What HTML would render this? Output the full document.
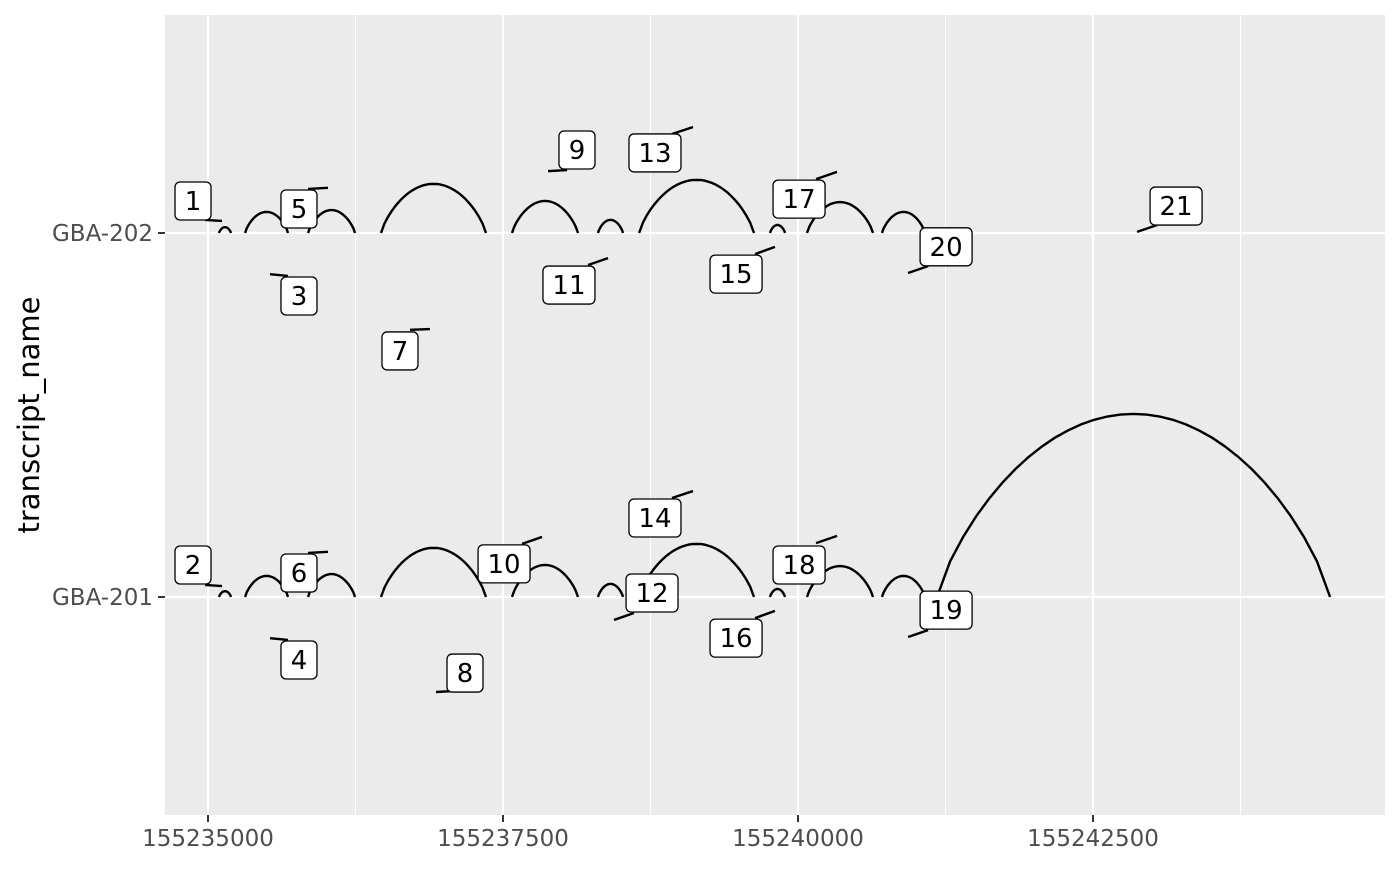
<!DOCTYPE html>
<html><head><meta charset="utf-8"><style>
body{margin:0;background:#fff}
svg text{font-family:"DejaVu Sans","Liberation Sans",sans-serif}
</style></head><body>
<svg id="c" width="1400" height="866" xmlns="http://www.w3.org/2000/svg"></svg>
<script>
const xTicks=[155235000,155237500,155240000,155242500];
const xMinor=[155236250,155238750,155241250,155243750];
const yCats=["GBA-201","GBA-202"];
const juncStart=[155235093,155235314,155235848,155236466,155237576,155238305,155238653,155239763,155240076,155240712];
const juncEnd=[155235195,155235678,155236246,155237356,155238136,155238517,155239627,155239890,155240636,155241076];
const juncHeight=[0.016,0.058,0.063,0.135,0.088,0.036,0.146,0.022,0.085,0.058];
const extraStart=[155241178];const extraEnd=[155244509];const extraHeight=[0.503];
const labelText=["1","2","3","4","5","6","7","8","9","10","11","12","13","14","15","16","17","18","19","20","21"];
const labelGx=[-127,-127,771,771,771,771,1627,2178,3127,2509,3059,3763,3788,3788,4475,4475,5009,5009,6255,6255,8204];
const labelY=[2.088,1.088,1.827,0.827,2.066,1.066,1.676,0.791,2.228,1.091,1.857,1.011,2.220,1.217,1.887,0.887,2.093,1.088,0.964,1.962,2.074];
const segX1=[-25,-25,525,525,848,848,1712,1932,2882,2661,3221,3441,3932,3932,4636,4636,5153,5153,5933,5933,7873];
const segX2=[119,119,678,678,1017,1017,1881,2093,3043,2831,3390,3610,4110,4110,4805,4805,5331,5331,6102,6102,8043];
const segY1=[2.036,1.033,1.887,0.887,2.121,1.121,1.734,0.739,2.170,1.146,1.912,0.937,2.272,1.272,1.942,0.942,2.148,1.148,0.890,1.890,2.003];
const segY2=[2.033,1.030,1.882,0.882,2.124,1.124,1.736,0.742,2.173,1.165,1.931,0.956,2.291,1.291,1.962,0.962,2.168,1.168,0.909,1.909,2.022];

const NS="http://www.w3.org/2000/svg",svg=document.getElementById('c');
const L=165,R=1385,T=15,B=815;
const X=g=>208+(g-155235000)*295/2500;
const Y=v=>597-(v-1)*364;
function mk(t,a,p){const e=document.createElementNS(NS,t);for(const k in a)e.setAttribute(k,a[k]);(p||svg).appendChild(e);return e;}
const bg=mk('rect',{x:L,y:T,width:R-L,height:B-T,fill:'#ebebeb'});


xMinor.forEach(g=>{const e=mk('line',{x1:X(g),x2:X(g),y1:T,y2:B,stroke:'#fff','stroke-width':1});

});
xTicks.forEach(g=>{const e=mk('line',{x1:X(g),x2:X(g),y1:T,y2:B,stroke:'#fff','stroke-width':2.2});


const t=mk('line',{x1:X(g),x2:X(g),y1:B,y2:B+7,stroke:'#333','stroke-width':2});


const tx=mk('text',{x:X(g),y:B+31,'text-anchor':'middle','font-size':23,fill:'#4d4d4d'});tx.textContent=g;

});
yCats.forEach((c,i)=>{const y=Y(i+1);
const e=mk('line',{x1:L,x2:R,y1:y,y2:y,stroke:'#fff','stroke-width':2.2});


const t=mk('line',{x1:L-7,x2:L,y1:y,y2:y,stroke:'#333','stroke-width':2});


const tx=mk('text',{x:L-12,y:y+8,'text-anchor':'end','font-size':23,fill:'#4d4d4d'});tx.textContent=c;

});
const yt=mk('text',{x:0,y:0,transform:'translate(39,415) rotate(-90)','text-anchor':'middle','font-size':29,fill:'#000'});yt.textContent='transcript_name';


function arc(s,e,h,base){let pts=[];for(let i=0;i<=30;i++){const t=i/30;const g=s+(e-s)*t;pts.push(X(g).toFixed(1)+','+Y(base+h*Math.pow(4*t*(1-t),0.8)).toFixed(1));}
const p=mk('polyline',{points:pts.join(' '),fill:'none',stroke:'#000','stroke-width':2.4});

}
[1,2].forEach(b=>juncStart.forEach((s,i)=>arc(s,juncEnd[i],juncHeight[i],b)));
extraStart.forEach((s,i)=>arc(s,extraEnd[i],extraHeight[i],1));
labelText.forEach((t,i)=>{const e=mk('line',{x1:X(155235000+segX1[i]),y1:Y(segY1[i]),x2:X(155235000+segX2[i]),y2:Y(segY2[i]),stroke:'#000','stroke-width':2.4});

});
labelText.forEach((t,i)=>{const cx=X(155235000+labelGx[i]),cy=Y(labelY[i]);const w=t.length>1?52:36;
const g=mk('g',{});


mk('rect',{x:cx-w/2,y:cy-19,width:w,height:38,rx:5,fill:'#fff',stroke:'#000','stroke-width':1.3},g);
const tx=mk('text',{x:cx,y:cy+9,'text-anchor':'middle','font-size':26,fill:'#000'},g);tx.textContent=t;});
</script>
</body></html>
